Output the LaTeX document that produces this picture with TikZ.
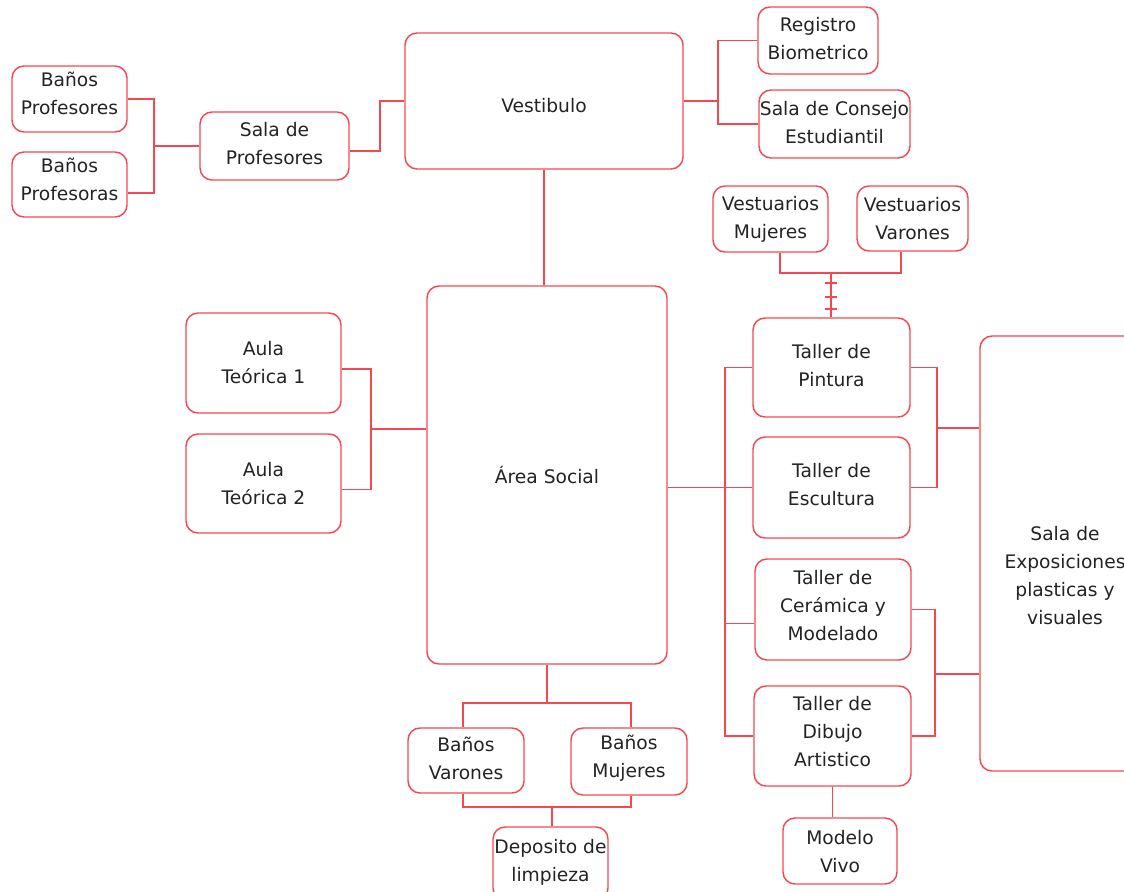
\documentclass[tikz,border=0pt]{standalone}
\usepackage{fontspec}
\setmainfont{DejaVu Sans}
\usetikzlibrary{fit,calc}
\definecolor{lred}{RGB}{243,72,82}
\definecolor{txt}{RGB}{35,35,35}
\tikzset{
  box/.style={draw=lred, line width=1.1pt, rounded corners=9pt, inner sep=0pt},
  lbl/.style={align=center, text=txt, inner sep=0pt,
    font=\fontsize{14}{21}\selectfont},
  conn/.style={draw=lred, line width=1.1pt}
}
\begin{document}
\begin{tikzpicture}[x=0.75pt,y=-0.75pt]
\useasboundingbox (0,0) rectangle (1124,892);
\clip (0,0) rectangle (1124,892);
% nodes
\node[box, fit={(12,66) (127,132)}, label={[lbl,yshift=4.5pt]center:{Baños\\Profesores}}] (bprof) {};
\node[box, fit={(12,152) (127,217)}, label={[lbl,yshift=3.75pt]center:{Baños\\Profesoras}}] (bprofa) {};
\node[box, fit={(200,112) (349,180)}, label={[lbl,yshift=1.5pt]center:{Sala de\\Profesores}}] (sprof) {};
\node[box, fit={(405,33) (683,169)}, label={[lbl,yshift=-3.75pt]center:{Vestibulo}}] (vest) {};
\node[box, fit={(758,7) (878,74)}, label={[lbl,yshift=1.5pt]center:{Registro\\Biometrico}}] (reg) {};
\node[box, fit={(759,90) (910,158)}, label={[lbl,yshift=1.1pt]center:{Sala de Consejo\\Estudiantil}}] (cons) {};
\node[box, fit={(713,186) (828,252)}, label={[lbl]center:{Vestuarios\\Mujeres}}] (vmuj) {};
\node[box, fit={(857,186) (968,251)}, label={[lbl]center:{Vestuarios\\Varones}}] (vvar) {};
\node[box, fit={(427,286) (667,664)}, label={[lbl]center:{Área Social}}] (asoc) {};
\node[box, fit={(186,313) (341,413)}, label={[lbl]center:{Aula\\Teórica 1}}] (aula1) {};
\node[box, fit={(186,434) (341,533)}, label={[lbl]center:{Aula\\Teórica 2}}] (aula2) {};
\node[box, fit={(753,318) (910,417)}, label={[lbl,yshift=1.5pt]center:{Taller de\\Pintura}}] (tpin) {};
\node[box, fit={(753,437) (910,538)}, label={[lbl,yshift=1.9pt]center:{Taller de\\Escultura}}] (tesc) {};
\node[box, fit={(755,559) (911,660)}, label={[lbl,yshift=2.6pt]center:{Taller de\\Cerámica y\\Modelado}}] (tcer) {};
\node[box, fit={(754,686) (911,786)}, label={[lbl,yshift=3pt]center:{Taller de\\Dibujo\\Artistico}}] (tdib) {};
\node[box, fit={(783,818) (897,884)}, label={[lbl,yshift=-0.75pt]center:{Modelo\\Vivo}}] (mviv) {};
\node[box, fit={(980,336) (1150,771)}, label={[lbl,yshift=-16.5pt]center:{Sala de\\Exposiciones\\plasticas y\\visuales}}] (expo) {};
\node[box, fit={(408,728) (524,793)}, label={[lbl,yshift=1.5pt]center:{Baños\\Varones}}] (bvar) {};
\node[box, fit={(571,728) (687,795)}, label={[lbl,yshift=2.25pt]center:{Baños\\Mujeres}}] (bmuj) {};
\node[box, fit={(493,827) (608,900)}, label={[lbl,yshift=0.75pt]center:{Deposito de\\limpieza}}] (dep) {};
% junctions
\coordinate (j1) at (154,146);
\coordinate (j2) at (380,0);
\coordinate (j3) at (718,0);
\coordinate (ja) at (371,429);
\coordinate (jl) at (725,0);
\coordinate (jr1) at (937,428);
\coordinate (jr2) at (935,674);
\coordinate (vx1) at (780,273);
\coordinate (vx2) at (901,273);
\coordinate (jv) at (831,273);
\coordinate (bj) at (547,703);
\coordinate (bl) at (463,703);
\coordinate (br) at (631,703);
\coordinate (bl2) at (463,807);
\coordinate (br2) at (631,807);
\coordinate (dj) at (552,807);
% connectors
\draw[conn] (bprof.east) -| (j1);
\draw[conn] ([yshift=-6.4pt]bprofa.east) -| (j1);
\draw[conn] (j1) -- (j1 -| sprof.west);
\draw[conn] ([yshift=-3.75pt]sprof.east) -| (j2 |- vest.west) -- (vest.west);
\draw[conn] (vest.east) -- (vest.east -| j3);
\draw[conn] (reg.west) -| (j3 |- vest.east);
\draw[conn] (cons.west) -| (j3 |- vest.east);
\draw[conn] (vest.south) -- (vest.south |- asoc.north);
\draw[conn] ([yshift=-4.5pt]aula1.east) -| (ja);
\draw[conn] ([yshift=-4.5pt]aula2.east) -| (ja);
\draw[conn] (ja) -- (ja -| asoc.west);
\draw[conn] (asoc.east |- tesc.west) -- (tesc.west);
\draw[conn] (tpin.west) -- (tpin.west -| jl) -- (tdib.west -| jl) -- (tdib.west);
\draw[conn] ([yshift=-10.5pt]tcer.west) -- ([yshift=-10.5pt]tcer.west -| jl);
\draw[conn] (tpin.east) -| (jr1);
\draw[conn] (tesc.east) -| (jr1);
\draw[conn] (jr1) -- (jr1 -| expo.west);
\draw[conn] (tcer.east) -| (jr2);
\draw[conn] (tdib.east) -| (jr2);
\draw[conn] (jr2) -- (jr2 -| expo.west);
\draw[conn] (tdib.south) -- (tdib.south |- mviv.north);
\draw[conn] (vx1 |- vmuj.south) -- (vx1) -- (vx2) -- (vx2 |- vvar.south);
\draw[conn] (jv) -- (jv |- tpin.north);
\foreach \yy in {283,297,309} \draw[conn] ($(jv |- 0,\yy)+(-6,0)$) -- ++(12,0);
\draw[conn] (asoc.south) -- (bj);
\draw[conn] (bl |- bvar.north) -- (bl) -- (br) -- (br |- bmuj.north);
\draw[conn] (bl2 |- bvar.south) -- (bl2) -- (br2) -- (br2 |- bmuj.south);
\draw[conn] (dj) -- (dj |- dep.north);
\end{tikzpicture}
\end{document}
